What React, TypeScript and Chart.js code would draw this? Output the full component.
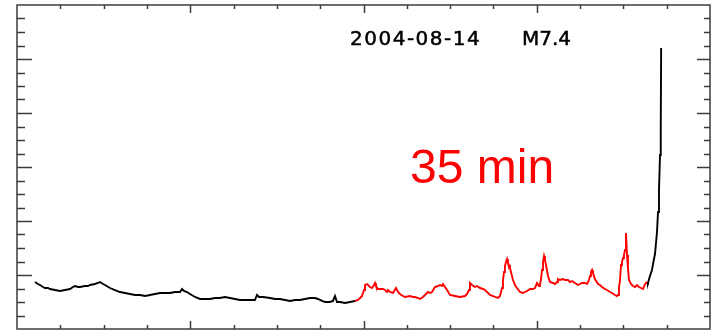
import { useEffect, useRef } from "react";
import { Chart, registerables } from "chart.js";

Chart.register(...registerables);

// Time in minutes, flux in arbitrary (log-like) units
const preTimes = [2.08, 2.42, 2.66, 3.0, 3.23, 3.58, 3.81, 4.39, 4.96, 5.54, 6.12, 6.46, 6.7, 7.04, 7.27, 7.85, 8.2, 8.43, 9.0, 9.35, 9.58, 9.93, 10.16, 10.74, 11.31, 11.89, 12.47, 13.04, 13.62, 14.2, 14.78, 15.35, 15.93, 16.51, 17.09, 17.66, 18.24, 18.82, 19.05, 19.28, 19.62, 19.97, 20.55, 21.13, 21.7, 22.28, 22.86, 23.43, 24.01, 24.59, 25.17, 25.74, 26.32, 26.9, 27.47, 27.71, 27.94, 28.4, 29.21, 29.78, 30.36, 30.94, 31.52, 32.09, 32.67, 33.25, 33.82, 34.4, 34.75, 35.21, 35.56, 36.13, 36.48, 36.71, 36.94, 37.29, 37.86, 38.44, 39.02];
const preFlux = [0.87, 0.833, 0.815, 0.778, 0.759, 0.759, 0.741, 0.722, 0.704, 0.722, 0.741, 0.778, 0.796, 0.778, 0.778, 0.796, 0.796, 0.815, 0.833, 0.852, 0.87, 0.833, 0.815, 0.759, 0.722, 0.685, 0.667, 0.648, 0.63, 0.63, 0.611, 0.63, 0.648, 0.667, 0.667, 0.667, 0.685, 0.685, 0.741, 0.704, 0.685, 0.648, 0.593, 0.556, 0.556, 0.556, 0.574, 0.574, 0.593, 0.574, 0.556, 0.537, 0.537, 0.537, 0.537, 0.63, 0.593, 0.593, 0.574, 0.556, 0.556, 0.537, 0.519, 0.537, 0.537, 0.556, 0.574, 0.574, 0.556, 0.519, 0.5, 0.5, 0.519, 0.611, 0.5, 0.5, 0.481, 0.5, 0.519];

const windowTimes = [39.02, 39.37, 39.6, 39.83, 40.06, 40.17, 40.4, 40.52, 40.75, 40.98, 41.21, 41.33, 41.44, 41.67, 41.9, 42.25, 42.48, 42.71, 42.83, 43.06, 43.41, 43.75, 43.98, 44.21, 44.56, 44.79, 45.37, 45.71, 45.95, 46.29, 46.52, 46.87, 47.1, 47.45, 47.68, 47.91, 48.25, 48.6, 48.83, 49.06, 49.18, 49.41, 49.64, 49.99, 50.56, 51.14, 51.72, 51.95, 52.18, 52.29, 52.53, 52.64, 52.87, 53.1, 53.45, 53.8, 54.03, 54.26, 54.6, 54.95, 55.18, 55.53, 55.76, 55.99, 56.1, 56.22, 56.33, 56.45, 56.57, 56.68, 56.8, 56.91, 57.14, 57.26, 57.49, 57.72, 58.07, 58.41, 58.64, 58.87, 59.22, 59.57, 59.8, 60.03, 60.26, 60.37, 60.49, 60.61, 60.72, 60.84, 60.95, 61.07, 61.3, 61.53, 61.88, 62.11, 62.34, 62.45, 62.68, 63.03, 63.26, 63.61, 63.84, 64.07, 64.42, 64.76, 64.99, 65.22, 65.57, 65.8, 66.03, 66.15, 66.26, 66.38, 66.49, 66.72, 67.07, 67.3, 67.53, 67.88, 68.11, 68.46, 68.69, 69.03, 69.26, 69.38, 69.49, 69.61, 69.73, 69.84, 69.96, 70.07, 70.19, 70.3, 70.42, 70.53, 70.65, 70.88, 71.11, 71.34, 71.57, 71.8, 72.03, 72.27, 72.5, 72.73];
const windowFlux = [0.519, 0.537, 0.574, 0.611, 0.722, 0.815, 0.833, 0.815, 0.778, 0.759, 0.815, 0.852, 0.796, 0.741, 0.741, 0.741, 0.722, 0.685, 0.722, 0.685, 0.667, 0.759, 0.685, 0.648, 0.611, 0.593, 0.611, 0.593, 0.593, 0.574, 0.556, 0.593, 0.63, 0.685, 0.667, 0.685, 0.778, 0.796, 0.815, 0.796, 0.833, 0.778, 0.722, 0.63, 0.611, 0.593, 0.611, 0.648, 0.722, 0.852, 0.815, 0.815, 0.778, 0.796, 0.759, 0.741, 0.722, 0.685, 0.63, 0.611, 0.593, 0.574, 0.611, 0.759, 0.907, 1.056, 1.167, 1.241, 1.296, 1.222, 1.185, 1.13, 0.981, 0.907, 0.815, 0.759, 0.685, 0.667, 0.685, 0.704, 0.741, 0.741, 0.759, 0.852, 0.796, 0.815, 0.926, 1.093, 1.241, 1.352, 1.278, 1.185, 0.981, 0.87, 0.852, 0.833, 0.87, 0.926, 0.907, 0.926, 0.907, 0.907, 0.87, 0.889, 0.852, 0.815, 0.833, 0.852, 0.852, 0.833, 0.907, 0.981, 1.056, 1.093, 1.037, 0.926, 0.833, 0.815, 0.778, 0.741, 0.722, 0.685, 0.667, 0.63, 0.611, 0.63, 0.759, 0.907, 1.185, 1.241, 1.315, 1.37, 1.463, 1.778, 1.37, 1.13, 0.907, 0.833, 0.796, 0.778, 0.815, 0.778, 0.759, 0.741, 0.833, 0.87];

const riseTimes = [72.73, 72.84, 73.07, 73.3, 73.42, 73.65, 73.88, 74.0, 74.11, 74.17, 74.23, 74.29, 74.34, 74.36];
const riseFlux = [0.87, 0.852, 0.981, 1.093, 1.204, 1.389, 1.796, 2.167, 2.574, 2.889, 3.222, 3.5, 3.722, 5.204];

const X_MIN = 0;
const X_MAX = 80;
const X_STEP = 5;
const X_MAJOR = 20;
const Y_MIN = 0;
const Y_MAX = 6;
const Y_STEP = 0.25;
const Y_MAJOR = 1;

const dateLabel = "2004-08-14";
const classLabel = "M7.4";
const durationLabel = "35 min";

const toPoints = (t: number[], v: number[]) => t.map((x, i) => ({ x, y: v[i] }));

const framePlugin = {
  id: "frame",
  afterDatasetsDraw(chart: any) {
    const { ctx, chartArea: a, scales } = chart;
    const xs = scales.x;
    const ys = scales.y;
    ctx.save();
    ctx.strokeStyle = "#3c3c3c";
    ctx.lineWidth = 1.5;
    ctx.strokeRect(a.left, a.top, a.right - a.left, a.bottom - a.top);
    ctx.beginPath();
    for (let t = X_MIN + X_STEP; t < X_MAX - 1e-6; t += X_STEP) {
      const px = Math.round(xs.getPixelForValue(t)) + 0.5;
      const major = Math.abs(t % X_MAJOR) < 1e-6;
      const len = major ? 8 : 4;
      ctx.moveTo(px, a.bottom);
      ctx.lineTo(px, a.bottom - len);
      ctx.moveTo(px, a.top);
      ctx.lineTo(px, a.top + len);
    }
    for (let v = Y_MIN + Y_STEP; v < Y_MAX - 1e-6; v += Y_STEP) {
      const py = Math.round(ys.getPixelForValue(v)) + 0.5;
      const major = Math.abs(v % Y_MAJOR) < 1e-6;
      const lenL = major ? 15 : 8;
      const lenR = major ? 13 : 6;
      ctx.moveTo(a.left, py);
      ctx.lineTo(a.left + lenL, py);
      ctx.moveTo(a.right, py);
      ctx.lineTo(a.right - lenR, py);
    }
    ctx.stroke();

    ctx.fillStyle = "#000";
    ctx.strokeStyle = "#000";
    ctx.lineWidth = 0.5;
    ctx.textBaseline = "alphabetic";
    ctx.font = "20px 'DejaVu Sans'";
    try { (ctx as any).letterSpacing = "1.5px"; } catch (e) {}
    const dx = xs.getPixelForValue(38.44);
    const dy = ys.getPixelForValue(5.26);
    ctx.fillText(dateLabel, dx, dy);
    ctx.strokeText(dateLabel, dx, dy);
    try { (ctx as any).letterSpacing = "0px"; } catch (e) {}
    const mx = xs.getPixelForValue(58.3);
    ctx.fillText(classLabel, mx, dy);
    ctx.strokeText(classLabel, mx, dy);

    ctx.fillStyle = "#ff0000";
    ctx.font = "48px 'Liberation Sans'";
    ctx.fillText(durationLabel, xs.getPixelForValue(45.37), ys.getPixelForValue(2.7));
    ctx.restore();
  },
};

export default function App() {
  const ref = useRef<HTMLCanvasElement | null>(null);
  useEffect(() => {
    if (!ref.current) return;
    const common = { pointRadius: 0, borderWidth: 1.9, tension: 0, fill: false };
    const chart = new Chart(ref.current, {
      type: "line",
      data: {
        datasets: [
          { ...common, data: toPoints(preTimes, preFlux), borderColor: "#000000" },
          { ...common, data: toPoints(windowTimes, windowFlux), borderColor: "#ff0000" },
          { ...common, data: toPoints(riseTimes, riseFlux), borderColor: "#000000" },
        ],
      },
      options: {
        animation: false,
        responsive: false,
        devicePixelRatio: 1,
        layout: { padding: { left: 17, top: 5, right: 2, bottom: 2 } },
        plugins: { legend: { display: false }, tooltip: { enabled: false }, title: { display: false } },
        scales: {
          x: { type: "linear", min: X_MIN, max: X_MAX, display: false },
          y: { type: "linear", min: Y_MIN, max: Y_MAX, display: false },
        },
      },
      plugins: [framePlugin],
    });
    return () => chart.destroy();
  }, []);
  return (
    <div style={{ position: "fixed", left: 0, top: 0, width: 712, height: 331, background: "#fff" }}>
      <canvas ref={ref} width={712} height={331} style={{ display: "block" }} />
    </div>
  );
}
